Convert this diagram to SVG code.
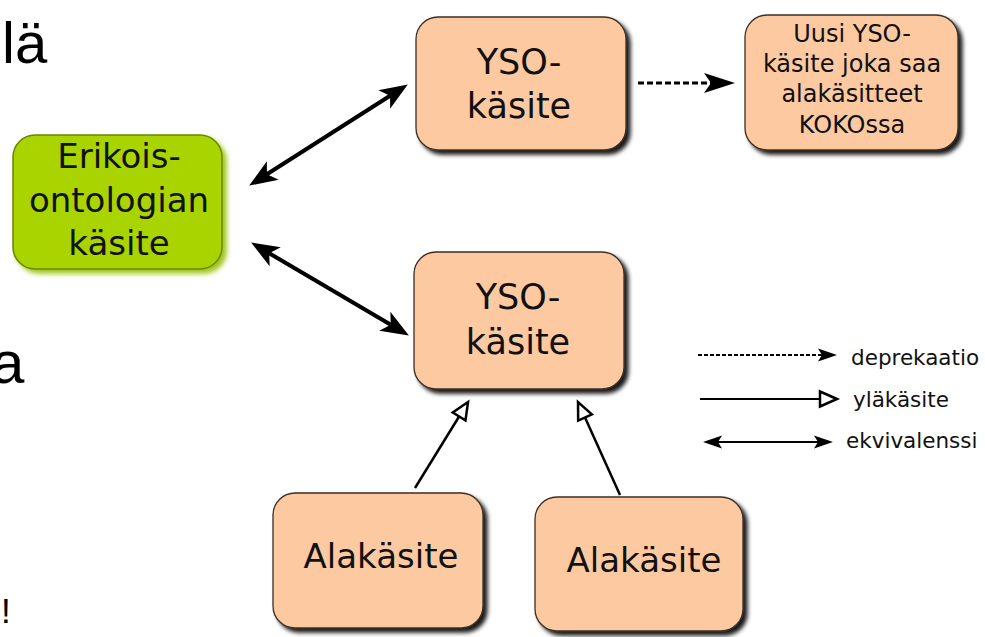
<svg xmlns="http://www.w3.org/2000/svg" width="985" height="637" viewBox="0 0 985 637">
<defs>
<style>
.slide{font-family:"Liberation Sans",Arial,sans-serif;fill:#000}
.lbl{font-family:"DejaVu Sans",Verdana,sans-serif;fill:#111;text-anchor:middle}
.peach{fill:#fdc9a1;stroke:#3b2f25;stroke-width:1.3}
.green{fill:#aad400;stroke:#6a8500;stroke-width:1.5}
.eq{stroke:#000;stroke-width:4;fill:none}
.sub{stroke:#000;stroke-width:2.5;fill:none}
.leg{font-family:"DejaVu Sans",Verdana,sans-serif;fill:#111;font-size:21.5px}
</style>
<filter id="sh" x="-10%" y="-10%" width="130%" height="130%">
<feDropShadow dx="4" dy="4" stdDeviation="2" flood-color="#000" flood-opacity="0.9"/>
</filter>
<filter id="shg" x="-10%" y="-10%" width="130%" height="130%">
<feDropShadow dx="4" dy="4" stdDeviation="2.5" flood-color="#98c000" flood-opacity="0.9"/>
</filter>
<marker id="big" markerUnits="userSpaceOnUse" markerWidth="40" markerHeight="30" viewBox="-10 -15 40 30" refX="0" refY="0" orient="auto-start-reverse" overflow="visible">
<path d="M21,0 L-7,-11 L0,0 L-7,11 Z" fill="#000"/>
</marker>
<marker id="dash" markerUnits="userSpaceOnUse" markerWidth="40" markerHeight="30" viewBox="-10 -15 40 30" refX="0" refY="0" orient="auto" overflow="visible">
<path d="M24,0 L-7,-10 L0,0 L-7,10 Z" fill="#000"/>
</marker>
<marker id="small" markerUnits="userSpaceOnUse" markerWidth="30" markerHeight="20" viewBox="-10 -10 30 20" refX="0" refY="0" orient="auto-start-reverse" overflow="visible">
<path d="M15,0 L-4,-6.5 L0,0 L-4,6.5 Z" fill="#000"/>
</marker>
<marker id="tri" markerUnits="userSpaceOnUse" markerWidth="30" markerHeight="30" viewBox="-5 -12 30 24" refX="0" refY="0" orient="auto" overflow="visible">
<path d="M17,0 L0,-7.5 L0,7.5 Z" fill="#fff" stroke="#000" stroke-width="2.5" stroke-linejoin="miter"/>
</marker>
</defs>

<g id="slide-text">
<text class="slide" x="2" y="63" font-size="58">lä</text>
<text class="slide" x="-9" y="383" font-size="60">a</text>
<text class="slide" x="1" y="623" font-size="35">!</text>
</g>

<g id="connectors">
<line class="eq" x1="266.9" y1="174.3" x2="390.1" y2="95.7" marker-start="url(#big)" marker-end="url(#big)"/>
<line class="eq" x1="269.2" y1="253.2" x2="390.8" y2="324.8" marker-start="url(#big)" marker-end="url(#big)"/>
<line x1="638" y1="83" x2="711" y2="83" stroke="#000" stroke-width="3" stroke-dasharray="6,3" marker-end="url(#dash)"/>
<line class="sub" x1="415" y1="488" x2="459.1" y2="416.5" marker-end="url(#tri)"/>
<line class="sub" x1="620" y1="495" x2="585" y2="417.5" marker-end="url(#tri)"/>
</g>

<g id="node-erikois">
<rect class="green" x="13" y="135" width="209" height="134" rx="22" filter="url(#shg)"/>
<text class="lbl" font-size="34"><tspan x="119" y="168">Erikois-</tspan><tspan x="119" y="212">ontologian</tspan><tspan x="119" y="255">käsite</tspan></text>
</g>

<g id="node-yso-top">
<rect class="peach" x="416" y="17" width="210" height="133" rx="22" filter="url(#sh)"/>
<text class="lbl" font-size="35"><tspan x="519" y="74">YSO-</tspan><tspan x="519" y="118">käsite</tspan></text>
</g>

<g id="node-uusi">
<rect class="peach" x="745" y="15" width="213" height="135" rx="22" filter="url(#sh)"/>
<text class="lbl" font-size="24"><tspan x="852" y="42">Uusi YSO-</tspan><tspan x="852" y="72">käsite joka saa</tspan><tspan x="852" y="102">alakäsitteet</tspan><tspan x="852" y="133">KOKOssa</tspan></text>
</g>

<g id="node-yso-bottom">
<rect class="peach" x="414" y="252" width="210" height="137" rx="22" filter="url(#sh)"/>
<text class="lbl" font-size="35"><tspan x="518" y="309">YSO-</tspan><tspan x="518" y="354">käsite</tspan></text>
</g>

<g id="node-ala-left">
<rect class="peach" x="273" y="493" width="210" height="135" rx="22" filter="url(#sh)"/>
<text class="lbl" font-size="34" x="381" y="568">Alakäsite</text>
</g>

<g id="node-ala-right">
<rect class="peach" x="535" y="497" width="208" height="134" rx="22" filter="url(#sh)"/>
<text class="lbl" font-size="34" x="644" y="572">Alakäsite</text>
</g>

<g id="legend">
<line x1="698" y1="355" x2="822" y2="355" stroke="#000" stroke-width="1.8" stroke-dasharray="4,2" marker-end="url(#small)"/>
<text class="leg" x="851" y="365">deprekaatio</text>
<line x1="700" y1="399" x2="820" y2="399" stroke="#000" stroke-width="2.2" marker-end="url(#tri)"/>
<text class="leg" x="853" y="407">yläkäsite</text>
<line x1="718" y1="442" x2="818" y2="442" stroke="#000" stroke-width="2" marker-start="url(#small)" marker-end="url(#small)"/>
<text class="leg" x="846" y="448">ekvivalenssi</text>
</g>
</svg>
